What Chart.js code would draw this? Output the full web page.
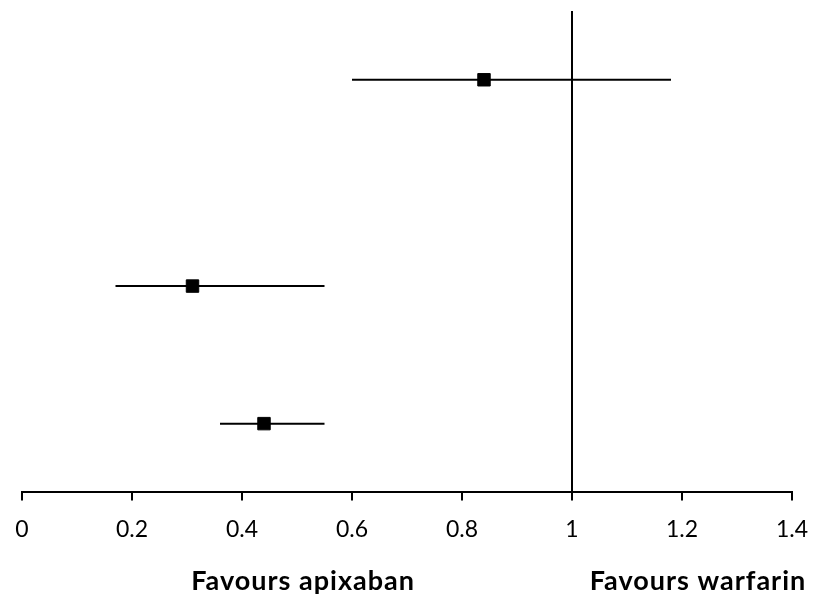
<!DOCTYPE html>
<html>
<head>
<meta charset="utf-8">
<script src="https://cdn.jsdelivr.net/npm/chart.js@4/dist/chart.umd.min.js"></script>
<style>
  html, body { margin: 0; padding: 0; background: #fff; }
  #wrap { width: 814px; height: 596px; }
</style>
</head>
<body>
<div id="wrap"><canvas id="forest"></canvas></div>
<script>
// forest plot rows (top to bottom), y is the row position
const rowY = [3, 1.5, 0.5];
const estimates = [0.84, 0.31, 0.44];
const lower = [0.60, 0.17, 0.36];
const upper = [1.18, 0.55, 0.55];

// x axis
const xTicks = [0, 0.2, 0.4, 0.6, 0.8, 1, 1.2, 1.4];
const noEffect = 1;

// labels under the axis and where they sit on the x scale
const sideLabels = ['Favours apixaban', 'Favours warfarin'];
const sideLabelX = [0.511, 1.229];

const FONT = 'Lato, "Open Sans", sans-serif';

// one line per confidence interval
const ciSets = rowY.map((y, i) => ({
  data: [{ x: lower[i], y: y }, { x: upper[i], y: y }],
  showLine: true,
  borderColor: '#000',
  borderWidth: 2,
  pointRadius: 0
}));

const sideLabelPlugin = {
  id: 'sideLabels',
  afterDraw(chart) {
    const ctx = chart.ctx;
    const xs = chart.scales.x;
    ctx.save();
    ctx.font = 'bold 27px ' + FONT;
    ctx.letterSpacing = '1px';
    ctx.fillStyle = '#000';
    ctx.textAlign = 'center';
    ctx.textBaseline = 'alphabetic';
    sideLabels.forEach((txt, i) => {
      ctx.fillText(txt, xs.getPixelForValue(sideLabelX[i]), 590);
    });
    ctx.restore();
  }
};

new Chart(document.getElementById('forest'), {
  type: 'scatter',
  data: {
    datasets: [
      {
        // line of no effect
        data: [{ x: noEffect, y: 0 }, { x: noEffect, y: 3.5 }],
        showLine: true,
        borderColor: '#000',
        borderWidth: 2,
        pointRadius: 0,
        clip: false
      },
      ...ciSets,
      {
        data: estimates.map((v, i) => ({ x: v, y: rowY[i] })),
        pointStyle: 'rect',
        pointRadius: 8.8,
        pointBackgroundColor: '#000',
        pointBorderColor: '#000',
        pointBorderWidth: 1
      }
    ]
  },
  options: {
    responsive: true,
    maintainAspectRatio: false,
    animation: false,
    layout: { padding: { left: 22, right: 22, top: 11, bottom: 38 } },
    plugins: {
      legend: { display: false },
      tooltip: { enabled: false }
    },
    scales: {
      x: {
        type: 'linear',
        min: 0,
        max: 1.4,
        afterBuildTicks: (scale) => { scale.ticks = xTicks.map(v => ({ value: v })); },
        afterFit: (scale) => { scale.paddingLeft = 0; scale.paddingRight = 0; },
        ticks: {
          color: '#000',
          padding: 15,
          font: { family: FONT, size: 23 },
          callback: (v) => String(Math.round(v * 10) / 10)
        },
        grid: {
          drawOnChartArea: false,
          drawTicks: true,
          tickLength: 8,
          color: '#000',
          lineWidth: 2
        },
        border: { display: true, color: '#000', width: 2 }
      },
      y: {
        type: 'linear',
        min: 0,
        max: 3.5,
        display: false
      }
    }
  },
  plugins: [sideLabelPlugin]
});
</script>
</body>
</html>
